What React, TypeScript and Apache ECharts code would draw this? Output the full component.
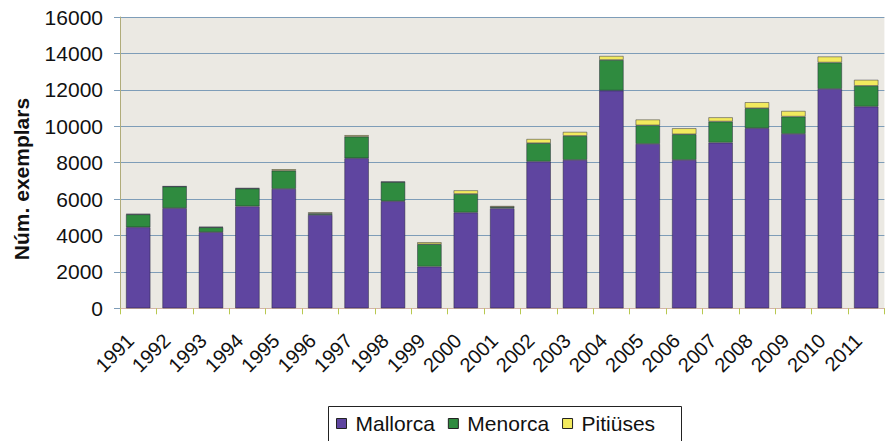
import React, { useEffect, useRef } from "react";
import * as echarts from "echarts";

const years = ["1991","1992","1993","1994","1995","1996","1997","1998","1999","2000","2001","2002","2003","2004","2005","2006","2007","2008","2009","2010","2011"];
const mallorca = [4450,5500,4180,5600,6560,5130,8240,5880,2290,5260,5490,8060,8150,11960,9030,8150,9100,9890,9580,12050,11080];
const menorca = [710,1190,270,980,1000,80,1190,1060,1230,1020,70,1010,1320,1680,1020,1410,1160,1100,950,1450,1140];
const pitiuses = [20,10,20,20,80,60,80,10,110,200,60,230,220,220,320,330,230,330,310,330,330];
const yTicks = { min: 0, max: 16000, interval: 2000 };
const yName = "Núm. exemplars";

const FONT = "Liberation Sans, Arial, sans-serif";

export default function App() {
  const ref = useRef<HTMLDivElement>(null);
  useEffect(() => {
    if (!ref.current) return;
    const chart = echarts.init(ref.current, undefined, { renderer: "svg" });
    const barStyle = (color: string) => ({
      color,
      borderColor: "rgba(30,30,50,0.75)",
      borderWidth: 0.6,
    });
    chart.setOption({
      animation: false,
      backgroundColor: "#ffffff",
      textStyle: { fontFamily: FONT },
      grid: {
        left: 120,
        right: 2.6,
        top: 17,
        bottom: 132.7,
        show: true,
        backgroundColor: "#EBE9E3",
        borderWidth: 0,
      },
      legend: {
        left: 328,
        top: 406,
        width: 354,
        padding: [7, 10, 6, 8],
        itemGap: 13,
        itemWidth: 10,
        itemHeight: 10,
        icon: "rect",
        borderWidth: 0,
        textStyle: { fontSize: 21, color: "#111", fontFamily: FONT, padding: [0, 0, 0, 4] },
        data: [
          { name: "Mallorca", itemStyle: { color: "#5F45A0", borderColor: "#222", borderWidth: 1 } },
          { name: "Menorca", itemStyle: { color: "#2F8B3F", borderColor: "#222", borderWidth: 1 } },
          { name: "Pitiüses", itemStyle: { color: "#F2EA5E", borderColor: "#222", borderWidth: 1 } },
        ],
      },
      xAxis: {
        type: "category",
        data: years,
        boundaryGap: true,
        axisLine: { show: true, lineStyle: { color: "#D4B4A8", width: 1 } },
        axisTick: { show: true, length: 6, interval: 0, lineStyle: { color: "#B8C850" } },
        axisLabel: {
          interval: 0,
          rotate: 45,
          margin: 21,
          fontSize: 20,
          color: "#111",
          fontFamily: FONT,
          padding: [0, 11, 0, 0],
        },
      },
      yAxis: {
        type: "value",
        min: yTicks.min,
        max: yTicks.max,
        interval: yTicks.interval,
        axisLine: { show: true, lineStyle: { color: "#B0AC7A", width: 1 } },
        axisTick: { show: true, length: 6, lineStyle: { color: "#7E9DB8" } },
        axisLabel: {
          fontSize: 21,
          color: "#111",
          margin: 17,
          fontFamily: FONT,
          formatter: (v: number) => String(v),
        },
        splitLine: { show: true, lineStyle: { color: "#7E9DB8", width: 1 } },
      },
      graphic: [
        {
          type: "text",
          x: 21,
          y: 179,
          rotation: Math.PI / 2,
          style: {
            text: yName,
            font: "bold 21px " + FONT,
            fill: "#111",
            align: "center",
            verticalAlign: "middle",
          },
        },
        {
          type: "rect",
          shape: { x: 328.5, y: 406.5, width: 353, height: 50 },
          style: { fill: "none", stroke: "#222", lineWidth: 1 },
          silent: true,
        },
      ],
      series: [
        { name: "Mallorca", type: "bar", stack: "t", data: mallorca, barWidth: "67%", itemStyle: barStyle("#5F45A0") },
        { name: "Menorca", type: "bar", stack: "t", data: menorca, barWidth: "67%", itemStyle: barStyle("#2F8B3F") },
        { name: "Pitiüses", type: "bar", stack: "t", data: pitiuses, barWidth: "67%", itemStyle: barStyle("#F2EA5E") },
      ],
    });
    return () => chart.dispose();
  }, []);
  return (
    <div
      ref={ref}
      style={{ position: "fixed", left: 0, top: 0, width: 887, height: 441 }}
    />
  );
}
